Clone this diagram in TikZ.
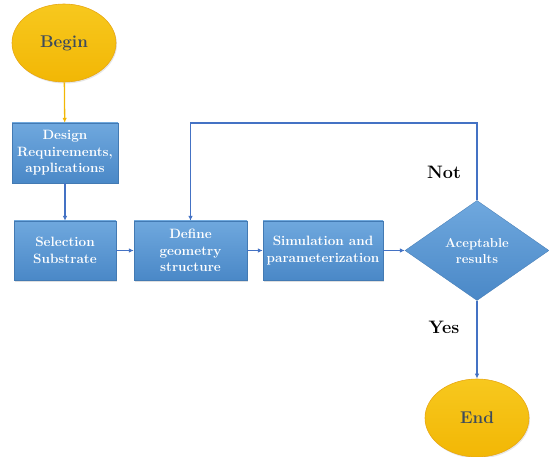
\documentclass[tikz,border=0pt]{standalone}
\usepackage{tikz}
\usetikzlibrary{shapes.geometric,arrows.meta,shadows}
\definecolor{boxtop}{HTML}{6FA8DE}
\definecolor{boxbot}{HTML}{4A88C7}
\definecolor{linkblue}{HTML}{4472C4}
\definecolor{sunup}{HTML}{F7C81E}
\definecolor{sundown}{HTML}{F2B705}
\definecolor{sunedge}{HTML}{E8A712}
\definecolor{slate}{HTML}{3E4B5C}
\tikzset{
  stepbox/.style={rectangle, top color=boxtop, bottom color=boxbot, draw=boxbot!90!black, line width=.3pt,
    text=white, font=\bfseries\fontsize{13.5}{16.5}\selectfont, align=center, inner sep=1pt,
    drop shadow={shadow xshift=1pt, shadow yshift=-1.5pt, opacity=.25}},
  terminal/.style={ellipse, top color=sunup, bottom color=sundown, draw=sunedge, line width=.6pt,
    minimum width=104pt, minimum height=78pt, inner sep=0pt, text=slate,
    font=\bfseries\fontsize{17}{19}\selectfont,
    drop shadow={shadow xshift=1pt, shadow yshift=-1.5pt, opacity=.2}},
  link/.style={draw=linkblue, line width=1.3pt, -{Latex[length=5pt,width=4.5pt]}},
  tag/.style={font=\bfseries\fontsize{18}{20}\selectfont}
}
\begin{document}
\begin{tikzpicture}[x=1pt,y=-1pt]
 \useasboundingbox (0,0) rectangle (549,457);
 % terminals
 \node[terminal] (begin) at (64,43) {Begin};
 \node[terminal] (end) at (477,418) {End};
 % process boxes
 \node[stepbox, minimum width=106pt, minimum height=60pt] (design) at (65,153) {Design\\Requirements,\\applications};
 \node[stepbox, minimum width=102pt, minimum height=59pt] (select) at (65,250.5) {Selection\\Substrate};
 \node[stepbox, minimum width=113pt, minimum height=59pt] (define) at (190.5,250.5) {Define\\geometry\\structure};
 \node[stepbox, minimum width=120pt, minimum height=59pt] (simul) at (323,250.5) {Simulation and\\parameterization};
 \node[diamond, top color=boxtop, bottom color=boxbot, draw=boxbot!90!black, line width=.3pt,
   minimum width=144pt, minimum height=100pt, inner sep=0pt, text=white,
   font=\bfseries\fontsize{13}{16}\selectfont, align=center] (check) at (477,250.5) {Aceptable\\results};
 % labels
 \node[tag] (no) at (444,172) {Not};
 \node[tag] (yes) at (444,327) {Yes};
 % connectors
 \coordinate (loopR) at (check.north |- 0,123);
 \coordinate (loopL) at (define.north |- 0,123);
 \draw[link, draw=sundown] (begin) -- (design);
 \draw[link] (design) -- (select);
 \draw[link] (select) -- (define);
 \draw[link] (define) -- (simul);
 \draw[link] (simul) -- (check);
 \draw[link] (check.north) -- (loopR) -- (loopL) -- (define.north);
 \draw[link] (check.south) -- (end);
\end{tikzpicture}
\end{document}
